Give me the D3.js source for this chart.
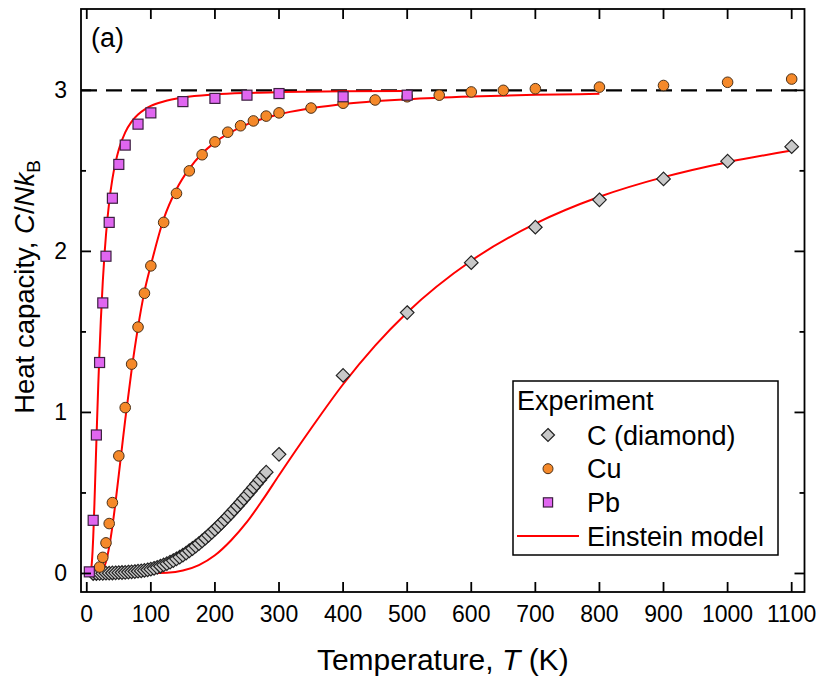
<!DOCTYPE html>
<html>
<head>
<meta charset="utf-8">
<script src="https://cdn.jsdelivr.net/npm/d3@7"></script>
<style>
  html, body { margin: 0; padding: 0; background: #fff; }
  svg { display: block; }
</style>
</head>
<body>
<div id="chart"></div>
<script>
// ---- data ----
const xTicks = [0, 100, 200, 300, 400, 500, 600, 700, 800, 900, 1000, 1100];
const yTicks = [0, 1, 2, 3];
const yMinor = [0.5, 1.5, 2.5];

// C (diamond), dense low-T series then sparse high-T points
const diamondT = [10,15,20,25,30,35,40,45,50,55,60,65,70,75,80,85,90,95,100,105,110,115,120,125,130,135,140,145,150,155,160,165,170,175,180,185,190,195,200,205,210,215,220,225,230,235,240,245,250,255,260,265,270,275,280,
                  300,400,500,600,700,800,900,1000,1100];
const diamondC = [0.000,0.000,0.001,0.001,0.002,0.002,0.003,0.004,0.005,0.006,0.007,0.009,0.010,0.012,0.014,0.016,0.019,0.023,0.027,0.032,0.038,0.045,0.053,0.061,0.070,0.080,0.091,0.102,0.114,0.127,0.141,0.155,0.170,0.186,0.202,0.219,0.237,0.255,0.274,0.293,0.313,0.333,0.354,0.375,0.397,0.419,0.441,0.464,0.487,0.510,0.534,0.557,0.581,0.605,0.629,
                  0.74,1.23,1.62,1.93,2.15,2.32,2.45,2.56,2.65];

const cuT = [20,25,30,35,40,50,60,70,80,90,100,120,140,160,180,200,220,240,260,280,300,350,400,450,500,550,600,650,700,800,900,1000,1100];
const cuC = [0.04,0.10,0.19,0.31,0.44,0.73,1.03,1.30,1.53,1.74,1.91,2.18,2.36,2.50,2.60,2.68,2.74,2.78,2.81,2.84,2.86,2.89,2.92,2.94,2.96,2.97,2.99,3.00,3.01,3.02,3.03,3.05,3.07];

const pbT = [4,10,15,20,25,30,35,40,50,60,80,100,150,200,250,300,400,500];
const pbC = [0.01,0.33,0.86,1.31,1.68,1.97,2.18,2.33,2.54,2.66,2.79,2.86,2.93,2.95,2.97,2.98,2.96,2.97];

// Einstein model curves, sampled along the red lines
const einPbT = [5,6,7,8,9,10,11,12,13,14,15,16,18,20,22,25,28,30,35,40,45,50,60,70,80,90,100,120,150,200,250,300,400,500];
const einPbC = [0.002,0.009,0.030,0.071,0.134,0.219,0.322,0.438,0.563,0.690,0.818,0.943,1.179,1.389,1.578,1.813,2.000,2.103,2.306,2.450,2.554,2.633,2.739,2.806,2.850,2.880,2.903,2.931,2.956,2.975,2.984,2.989,2.994,2.996];

const einCuT = [15,20,25,30,35,40,45,50,55,60,70,80,90,100,120,140,160,180,200,250,300,400,500,600,700,800];
const einCuC = [0.000,0.003,0.022,0.073,0.165,0.293,0.446,0.614,0.785,0.954,1.264,1.530,1.750,1.914,2.201,2.386,2.514,2.608,2.677,2.789,2.851,2.915,2.945,2.962,2.972,2.978];

const einCT = [50,100,125,150,175,200,225,250,275,300,350,400,450,500,600,700,800,900,1000,1100];
const einCC = [0.000,0.001,0.004,0.018,0.052,0.113,0.205,0.320,0.460,0.610,0.900,1.175,1.415,1.621,1.942,2.172,2.339,2.461,2.554,2.626];

const dulongPetit = 3;

const legendItems = [
  { label: 'C (diamond)', kind: 'diamond' },
  { label: 'Cu', kind: 'circle' },
  { label: 'Pb', kind: 'square' },
  { label: 'Einstein model', kind: 'line' }
];

// ---- layout ----
const W = 821, H = 680;
const mL = 81, mR = 804.5, mT = 9, mB = 592;
const FONT = '"Liberation Sans", Arial, sans-serif';

const svg = d3.select('#chart').append('svg')
  .attr('width', W).attr('height', H)
  .style('background', '#fff');

const x = d3.scaleLinear().domain([-9, 1120]).range([mL, mR]);
const y = d3.scaleLinear().domain([-0.115, 3.505]).range([mB, mT]);

const plot = svg.append('g');
plot.append('clipPath').attr('id', 'clip')
  .append('rect').attr('x', mL).attr('y', mT).attr('width', mR - mL).attr('height', mB - mT);
const inner = plot.append('g').attr('clip-path', 'url(#clip)');

// dashed 3Nk line
inner.append('line')
  .attr('x1', mL).attr('x2', mR)
  .attr('y1', y(dulongPetit)).attr('y2', y(dulongPetit))
  .attr('stroke', '#000').attr('stroke-width', 2.4).attr('stroke-dasharray', '16,9');

// Einstein curves
const line = d3.line().x(d => x(d[0])).y(d => y(d[1])).curve(d3.curveMonotoneX);
[[einCT, einCC], [einCuT, einCuC], [einPbT, einPbC]].forEach(([ts, cs]) => {
  inner.append('path')
    .datum(ts.map((t, i) => [t, cs[i]]))
    .attr('d', line)
    .attr('fill', 'none').attr('stroke', '#ff0000').attr('stroke-width', 2);
});

// markers
const diamondPath = r => `M0,${-r}L${r},0L0,${r}L${-r},0Z`;
const markers = {
  diamond: (g, r) => g.append('path').attr('d', diamondPath(r))
    .attr('fill', '#c8c8c8').attr('stroke', '#222').attr('stroke-width', 1.2),
  circle: (g, r) => g.append('circle').attr('r', r)
    .attr('fill', '#f5892a').attr('stroke', '#4a3018').attr('stroke-width', 1),
  square: (g, r) => g.append('rect').attr('x', -r).attr('y', -r).attr('width', 2 * r).attr('height', 2 * r)
    .attr('fill', '#e066f0').attr('stroke', '#3c2040').attr('stroke-width', 1.2)
};

function drawSeries(ts, cs, kind, r) {
  const g = inner.append('g');
  ts.forEach((t, i) => {
    const m = g.append('g').attr('transform', `translate(${x(t)},${y(cs[i])})`);
    markers[kind](m, r);
  });
}
drawSeries(diamondT, diamondC, 'diamond', 6.8);
drawSeries(cuT, cuC, 'circle', 5.3);
drawSeries(pbT, pbC, 'square', 5);

// frame + ticks
const axG = svg.append('g').attr('stroke', '#000').attr('stroke-width', 1.8);
axG.append('rect').attr('x', mL).attr('y', mT).attr('width', mR - mL).attr('height', mB - mT)
  .attr('fill', 'none');
xTicks.forEach(t => {
  axG.append('line').attr('x1', x(t)).attr('x2', x(t)).attr('y1', mB).attr('y2', mB - 10);
  axG.append('line').attr('x1', x(t)).attr('x2', x(t)).attr('y1', mT).attr('y2', mT + 10);
});
yTicks.forEach(v => {
  axG.append('line').attr('x1', mL).attr('x2', mL + 10).attr('y1', y(v)).attr('y2', y(v));
  axG.append('line').attr('x1', mR).attr('x2', mR - 10).attr('y1', y(v)).attr('y2', y(v));
});
yMinor.forEach(v => {
  axG.append('line').attr('x1', mL).attr('x2', mL + 5).attr('y1', y(v)).attr('y2', y(v));
  axG.append('line').attr('x1', mR).attr('x2', mR - 5).attr('y1', y(v)).attr('y2', y(v));
});

// tick labels
const labG = svg.append('g').attr('font-family', FONT).attr('fill', '#000');
xTicks.forEach(t => {
  labG.append('text').text(t).attr('x', x(t)).attr('y', 622)
    .attr('text-anchor', 'middle').attr('font-size', 23);
});
yTicks.forEach(v => {
  labG.append('text').text(v).attr('x', 67).attr('y', y(v) + 8)
    .attr('text-anchor', 'end').attr('font-size', 23);
});

// axis titles
const xt = labG.append('text').attr('x', (mL + mR) / 2).attr('y', 670)
  .attr('text-anchor', 'middle').attr('font-size', 30);
xt.append('tspan').text('Temperature, ');
xt.append('tspan').text('T').attr('font-style', 'italic');
xt.append('tspan').text(' (K)');

const yt = labG.append('text')
  .attr('transform', 'translate(34,287) rotate(-90)')
  .attr('text-anchor', 'middle').attr('font-size', 27.5);
yt.append('tspan').text('Heat capacity, ');
yt.append('tspan').text('C').attr('font-style', 'italic');
yt.append('tspan').text('/');
yt.append('tspan').text('Nk').attr('font-style', 'italic');
yt.append('tspan').text('B').attr('font-size', 19).attr('dy', 6);

// panel label
labG.append('text').text('(a)').attr('x', 91).attr('y', 47).attr('font-size', 27);

// legend
const lg = svg.append('g').attr('font-family', FONT);
lg.append('rect').attr('x', 513).attr('y', 381).attr('width', 265).attr('height', 174)
  .attr('fill', '#fff').attr('stroke', '#000').attr('stroke-width', 1.5);
lg.append('text').text('Experiment').attr('x', 517).attr('y', 410).attr('font-size', 27);
legendItems.forEach((it, i) => {
  const cy = 435 + i * 33.7;
  const m = lg.append('g').attr('transform', `translate(548,${cy})`);
  if (it.kind === 'line') {
    lg.append('line').attr('x1', 517).attr('x2', 579).attr('y1', cy).attr('y2', cy)
      .attr('stroke', '#ff0000').attr('stroke-width', 2);
  } else {
    markers[it.kind](m, it.kind === 'diamond' ? 6.5 : it.kind === 'circle' ? 5 : 4.6);
  }
  lg.append('text').text(it.label).attr('x', 587).attr('y', cy + 9.5).attr('font-size', 27);
});
</script>
</body>
</html>
